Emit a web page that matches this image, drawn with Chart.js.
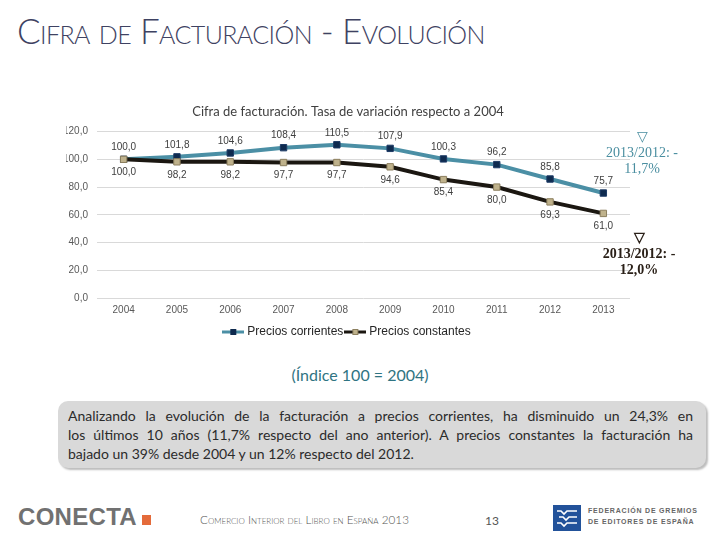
<!DOCTYPE html>
<html lang="es">
<head>
<meta charset="utf-8">
<title>Cifra de facturación - Evolución</title>
<script src="https://cdn.jsdelivr.net/npm/chart.js@4.4.1/dist/chart.umd.min.js"></script>
<style>
  html, body { margin: 0; padding: 0; background: #fff; }
  body { width: 720px; height: 540px; position: relative; overflow: hidden; font-family: Lato, "Open Sans", sans-serif; }
  #titulo { position: absolute; left: 17px; top: 9px; font-size: 35px; font-weight: 300; letter-spacing: -0.6px; font-variant: small-caps; color: #3e4262; white-space: nowrap; }
  #grafico { position: absolute; left: 0; top: 95px; }
  .nota { position: absolute; font-family: "Liberation Serif", serif; font-size: 14px; line-height: 16px; text-align: center; width: 90px; }
  #notaCorr { left: 597px; top: 129px; color: #4a8ea0; }
  #notaCons { left: 594px; top: 230px; color: #2a2018; font-weight: bold; }
  #indice { position: absolute; left: 0; width: 720px; top: 365px; text-align: center; font-size: 16px; color: #2f7482; }
  #caja { position: absolute; left: 58px; top: 401px; width: 648px; height: 67px; background: #d9d9d9; border-radius: 10px; box-shadow: 2px 2px 2px #bdbdbd; }
  #caja div { position: absolute; left: 10px; width: 625px; font-size: 14px; color: #2b2b2b; white-space: nowrap; }
  #caja .j { text-align: justify; text-align-last: justify; white-space: normal; }
  #conecta { position: absolute; left: 18px; top: 503px; font-family: "Liberation Sans", sans-serif; font-weight: bold; font-size: 24px; letter-spacing: 0.3px; color: #717171; }
  #cuadro { position: absolute; left: 142px; top: 515px; width: 9px; height: 10px; background: #e46b3a; }
  #pie { position: absolute; left: 200px; top: 512px; font-size: 11.7px; font-variant: small-caps; color: #555; font-weight: 300; }
  #pagina { position: absolute; left: 485px; top: 513px; font-size: 12px; color: #555; }
  #federacion { position: absolute; left: 553px; top: 505px; }
  #fedTexto { position: absolute; left: 588px; top: 505px; font-family: "Liberation Sans", sans-serif; font-size: 7px; letter-spacing: 0.8px; color: #666; line-height: 11px; font-weight: bold; }
</style>
</head>
<body>
<div id="titulo">Cifra de Facturación - Evolución</div>
<canvas id="grafico" width="720" height="256"></canvas>
<div class="nota" id="notaCorr">▽<br>2013/2012: -<br>11,7%</div>
<div class="nota" id="notaCons">▽<br>2013/2012: -<br>12,0%</div>
<div id="indice">(Índice 100 = 2004)</div>
<div id="caja">
  <div class="j" style="top: 6px;">Analizando la evolución de la facturación a precios corrientes, ha disminuido un 24,3% en</div>
  <div class="j" style="top: 25px;">los últimos 10 años (11,7% respecto del ano anterior). A precios constantes la facturación ha</div>
  <div style="top: 44px;">bajado un 39% desde 2004 y un 12% respecto del 2012.</div>
</div>
<div id="conecta">CONECTA</div>
<div id="cuadro"></div>
<div id="pie">Comercio Interior del Libro en España 2013</div>
<div id="pagina">13</div>
<svg id="federacion" width="28" height="26" viewBox="0 0 28 26">
  <rect width="28" height="26" fill="#22529a"/>
  <polyline points="4,6 8,6 11,9 14,6 24,6" stroke="#fff" stroke-width="1.6" fill="none"/>
  <polyline points="6,12 10,12 13,15 16,12 24,12" stroke="#fff" stroke-width="1.6" fill="none"/>
  <polyline points="4,18 8,18 11,21 14,18 24,18" stroke="#fff" stroke-width="1.6" fill="none"/>
</svg>
<div id="fedTexto">FEDERACIÓN DE GREMIOS<br>DE EDITORES DE ESPAÑA</div>

<script>
const anios = ['2004', '2005', '2006', '2007', '2008', '2009', '2010', '2011', '2012', '2013'];
const preciosCorrientes = [100.0, 101.8, 104.6, 108.4, 110.5, 107.9, 100.3, 96.2, 85.8, 75.7];
const preciosConstantes = [100.0, 98.2, 98.2, 97.7, 97.7, 94.6, 85.4, 80.0, 69.3, 61.0];
const ticksY = [0, 20, 40, 60, 80, 100, 120];

function formato(v) {
  return v.toFixed(1).replace('.', ',');
}

// marca de la leyenda: linea con cuadrado en medio
function marcaLeyenda(linea, relleno, borde) {
  const c = document.createElement('canvas');
  c.width = 22;
  c.height = 8;
  const g = c.getContext('2d');
  g.fillStyle = linea;
  g.fillRect(0, 2.5, 22, 3);
  g.fillStyle = relleno;
  g.fillRect(8, 1, 6, 6);
  g.strokeStyle = borde;
  g.lineWidth = 1;
  g.strokeRect(8.5, 1.5, 5, 5);
  return c;
}

const marcas = [
  marcaLeyenda('#4b8fa5', '#0e2a4e', '#0e2a4e'),
  marcaLeyenda('#1b1711', '#bfb28c', '#8c7f5e')
];

const etiquetas = {
  id: 'etiquetas',
  afterDatasetsDraw(chart) {
    const ctx = chart.ctx;
    ctx.save();
    ctx.font = '10px "Liberation Sans"';
    ctx.fillStyle = '#404040';
    ctx.textAlign = 'center';
    ctx.textBaseline = 'middle';
    chart.data.datasets.forEach((ds, i) => {
      const meta = chart.getDatasetMeta(i);
      const dy = i === 0 ? -12 : 13;
      meta.data.forEach((p, j) => {
        ctx.fillText(formato(ds.data[j]), p.x, p.y + dy);
      });
    });
    ctx.restore();
  }
};

const ctx = document.getElementById('grafico').getContext('2d');
new Chart(ctx, {
  type: 'line',
  data: {
    labels: anios,
    datasets: [{
      label: 'Precios corrientes',
      data: preciosCorrientes,
      borderColor: '#4b8fa5',
      backgroundColor: '#0e2a4e',
      borderWidth: 4,
      pointStyle: 'rect',
      pointRadius: 4.5,
      pointBackgroundColor: '#0e2a4e',
      pointBorderColor: '#1d3b66',
      pointBorderWidth: 1,
      tension: 0,
      order: 2
    }, {
      label: 'Precios constantes',
      data: preciosConstantes,
      borderColor: '#1b1711',
      backgroundColor: '#bfb28c',
      borderWidth: 4,
      pointStyle: 'rect',
      pointRadius: 4.5,
      pointBackgroundColor: '#bfb28c',
      pointBorderColor: '#8c7f5e',
      pointBorderWidth: 1,
      tension: 0,
      order: 1
    }]
  },
  options: {
    responsive: false,
    animation: false,
    devicePixelRatio: 1,
    layout: { padding: { left: 66, right: 90, top: 0, bottom: 3 } },
    plugins: {
      tooltip: { enabled: false },
      title: {
        display: true,
        text: 'Cifra de facturación. Tasa de variación respecto a 2004',
        color: '#404040',
        font: { family: 'Lato', size: 13, weight: 'normal' },
        padding: { top: 9, bottom: 12 }
      },
      legend: {
        position: 'bottom',
        labels: {
          usePointStyle: true,
          pointStyleWidth: 16,
          padding: 4,
          color: '#262626',
          font: { family: 'Liberation Sans', size: 12 },
          sort: (a, b) => a.datasetIndex - b.datasetIndex,
          generateLabels(chart) {
            const items = Chart.defaults.plugins.legend.labels.generateLabels(chart);
            items.forEach((it) => { it.pointStyle = marcas[it.datasetIndex]; });
            return items;
          }
        }
      }
    },
    scales: {
      x: {
        offset: true,
        grid: { display: false, drawTicks: false },
        border: { display: false },
        ticks: { color: '#595959', font: { family: 'Liberation Sans', size: 10 }, padding: 6 },
        afterFit(scale) { scale.height = 24; }
      },
      y: {
        min: 0,
        max: 120,
        afterBuildTicks(scale) { scale.ticks = ticksY.map((v) => ({ value: v })); },
        grid: { color: '#d9d9d9', lineWidth: 1, drawTicks: false },
        border: { display: false },
        ticks: {
          color: '#595959',
          font: { family: 'Liberation Sans', size: 10 },
          padding: 9,
          callback: (v) => formato(v)
        },
        afterFit(scale) { scale.width = 31; }
      }
    }
  },
  plugins: [etiquetas]
});
</script>
</body>
</html>
